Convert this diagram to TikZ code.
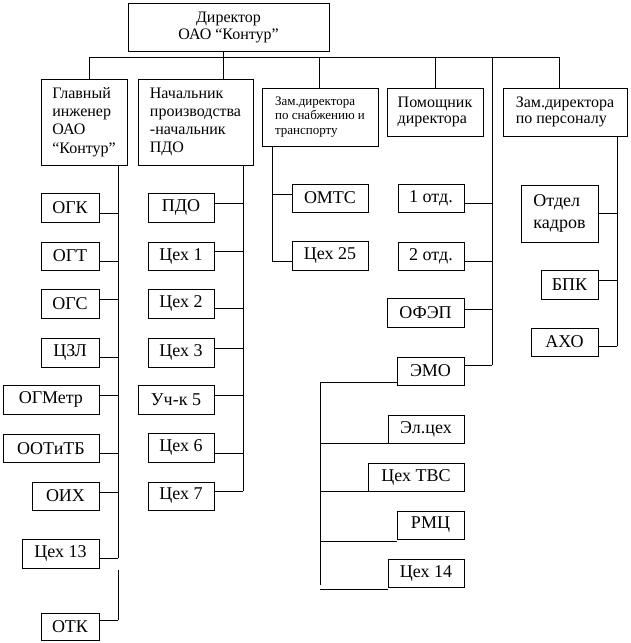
\documentclass[tikz,border=0pt]{standalone}
\usepackage{fontspec}
\setmainfont{Liberation Serif}
\newfontfamily\timesrm{Liberation Serif}
\tikzset{% boxes of the chart
    >=latex,
    unit/.style={draw, rectangle, inner sep=0pt, font=\timesrm\fontsize{18}{22}\selectfont},
    head/.style={draw, rectangle, inner sep=0pt, align=left, font=\timesrm\fontsize{16}{18.2}\selectfont},
}
\newcommand{\conn}[4]{\draw ([yshift=#3]#1.#2) coordinate (c) -- (c -| #4);}

\begin{document}
\begin{tikzpicture}[x=1pt, y=-1pt, line width=0.8pt]
	\useasboundingbox (0,0) rectangle (630,643);

	% heads
	\node[head, align=center, font=\timesrm\fontsize{16}{17}\selectfont, minimum width=201pt, minimum height=48pt] (dir) at (228.5,27) {Директор\\ОАО “Контур”};
	\node[head, minimum width=86pt, minimum height=86pt] (glav) at (84,122) {Главный\\инженер\\ОАО\\“Контур”};
	\node[head, minimum width=115pt, minimum height=86pt] (nach) at (195.5,122) {Начальник\\производства\\-начальник\\ПДО};
	\node[head, font=\timesrm\fontsize{13}{14.5}\selectfont, minimum width=116pt, minimum height=58pt] (snab) at (320,117) {Зам.директора\\по снабжению и\\транспорту};
	\node[head, font=\timesrm\fontsize{16}{16.5}\selectfont, minimum width=96pt, minimum height=48pt] (pom) at (435,112) {Помощник\\директора};
	\node[head, font=\timesrm\fontsize{16}{16.5}\selectfont, minimum width=124pt, minimum height=48pt] (pers) at (565,112) {Зам.директора\\по персоналу};

	% engineer's units
	\node[unit, minimum width=58pt, minimum height=29pt] (ogk) at (70,207.5) {ОГК};
	\node[unit, minimum width=58pt, minimum height=28pt] (ogt) at (70,256) {ОГТ};
	\node[unit, minimum width=58pt, minimum height=29pt] (ogs) at (70,303.5) {ОГС};
	\node[unit, minimum width=58pt, minimum height=29pt] (czl) at (70,352.5) {ЦЗЛ};
	\node[unit, minimum width=96pt, minimum height=29pt] (ogmetr) at (51,399.5) {ОГМетр};
	\node[unit, minimum width=96pt, minimum height=28pt] (ootitb) at (51,448.5) {ООТиТБ};
	\node[unit, minimum width=67pt, minimum height=28pt] (oih) at (65.5,496) {ОИХ};
	\node[unit, minimum width=77pt, minimum height=29pt] (cex13) at (60.5,553.5) {Цех 13};
	\node[unit, minimum width=58pt, minimum height=27pt] (otk) at (70,626.5) {ОТК};

	% production units
	\node[unit, minimum width=66pt, minimum height=29pt] (pdo) at (181,207.5) {ПДО};
	\node[unit, minimum width=66pt, minimum height=28pt] (cex1) at (181,256) {Цех 1};
	\node[unit, minimum width=66pt, minimum height=29pt] (cex2) at (181,303.5) {Цех 2};
	\node[unit, minimum width=66pt, minimum height=29pt] (cex3) at (181,352.5) {Цех 3};
	\node[unit, minimum width=76pt, minimum height=29pt] (uch5) at (176,399.5) {Уч-к 5};
	\node[unit, minimum width=66pt, minimum height=29pt] (cex6) at (181,447.5) {Цех 6};
	\node[unit, minimum width=66pt, minimum height=28pt] (cex7) at (181,496) {Цех 7};

	% supply units
	\node[unit, minimum width=76pt, minimum height=28pt] (omts) at (330,198) {ОМТС};
	\node[unit, minimum width=76pt, minimum height=29pt] (cex25) at (330,255.5) {Цех 25};

	% assistant's units
	\node[unit, minimum width=66pt, minimum height=28pt] (otd1) at (431,198) {1 отд.};
	\node[unit, minimum width=66pt, minimum height=28pt] (otd2) at (431,256) {2 отд.};
	\node[unit, minimum width=77pt, minimum height=29pt] (ofep) at (425.5,312.5) {ОФЭП};
	\node[unit, minimum width=67pt, minimum height=28pt] (emo) at (430.5,371) {ЭМО};
	\node[unit, minimum width=76pt, minimum height=28pt] (elcex) at (426,429) {Эл.цех};
	\node[unit, minimum width=96pt, minimum height=28pt] (cextvs) at (416,477) {Цех ТВС};
	\node[unit, minimum width=67pt, minimum height=28pt] (rmc) at (430.5,525) {РМЦ};
	\node[unit, minimum width=76pt, minimum height=28pt] (cex14) at (426,573) {Цех 14};

	% personnel units
	\node[unit, align=left, minimum width=77pt, minimum height=57pt] (kadr) at (559.5,213.5) {Отдел\\кадров};
	\node[unit, minimum width=57pt, minimum height=29pt] (bpk) at (569.5,284.5) {БПК};
	\node[unit, minimum width=67pt, minimum height=28pt] (aho) at (564.5,342) {АХО};

	% top bus
	\coordinate (b1) at (89,57);
	\coordinate (b2) at (223,57);
	\coordinate (b3) at (319,57);
	\coordinate (b4) at (435,57);
	\coordinate (b5) at (492,57);
	\coordinate (b6) at (559,57);
	\draw (b1) -- (b6);
	\draw (b1) -- (b1 |- glav.north);
	\draw (dir.south -| b2) -- (b2 |- nach.north);
	\draw (b3) -- (b3 |- snab.north);
	\draw (b4) -- (b4 |- pom.north);
	\draw (b6) -- (b6 |- pers.north);

	% column buses
	\coordinate (lb) at (118,165);
	\coordinate (lbB) at (118,558);
	\coordinate (lb2) at (118,570);
	\coordinate (lb2B) at (118,620);
	\coordinate (mb) at (243,165);
	\coordinate (mbB) at (243,491);
	\coordinate (sb) at (272,146);
	\coordinate (sbB) at (272,261);
	\coordinate (pbB) at (492,365);
	\coordinate (rb) at (617,136);
	\coordinate (rbB) at (617,346);
	\coordinate (eb) at (320,382);
	\coordinate (ebB) at (320,585);
	\draw (lb) -- (lbB);
	\draw (lb2) -- (lb2B);
	\draw (mb) -- (mbB);
	\draw (sb) -- (sbB);
	\draw (b5) -- (pbB);
	\draw (rb) -- (rbB);
	\draw (eb) -- (ebB);

	% connectors
	\conn{ogk}{east}{-5.5pt}{lb}
	\conn{ogt}{east}{-5pt}{lb}
	\conn{ogs}{east}{4.5pt}{lb}
	\conn{czl}{east}{-4.5pt}{lb}
	\conn{ogmetr}{east}{4.5pt}{lb}
	\conn{ootitb}{east}{-4.5pt}{lb}
	\conn{oih}{east}{4pt}{lb}
	\conn{cex13}{east}{-4.5pt}{lb}
	\conn{otk}{east}{6.5pt}{lb}

	\conn{pdo}{east}{4.5pt}{mb}
	\conn{cex1}{east}{5pt}{mb}
	\conn{cex2}{east}{-4.5pt}{mb}
	\conn{cex3}{east}{4.5pt}{mb}
	\conn{uch5}{east}{4.5pt}{mb}
	\conn{cex6}{east}{-5.5pt}{mb}
	\conn{cex7}{east}{5pt}{mb}

	\conn{omts}{west}{4pt}{sb}
	\conn{cex25}{west}{-5.5pt}{sb}

	\conn{otd1}{east}{-5pt}{b5}
	\conn{otd2}{east}{-5pt}{b5}
	\conn{ofep}{east}{3.5pt}{b5}
	\conn{emo}{east}{6pt}{b5}

	\conn{emo}{west}{-11pt}{eb}
	\conn{elcex}{south west}{0pt}{eb}
	\conn{cextvs}{south west}{0pt}{eb}
	\conn{rmc}{south west}{-2pt}{eb}
	\conn{cex14}{south west}{-2pt}{eb}

	\conn{kadr}{east}{0pt}{rb}
	\conn{bpk}{east}{4.5pt}{rb}
	\conn{aho}{east}{-4pt}{rb}
\end{tikzpicture}
\end{document}
